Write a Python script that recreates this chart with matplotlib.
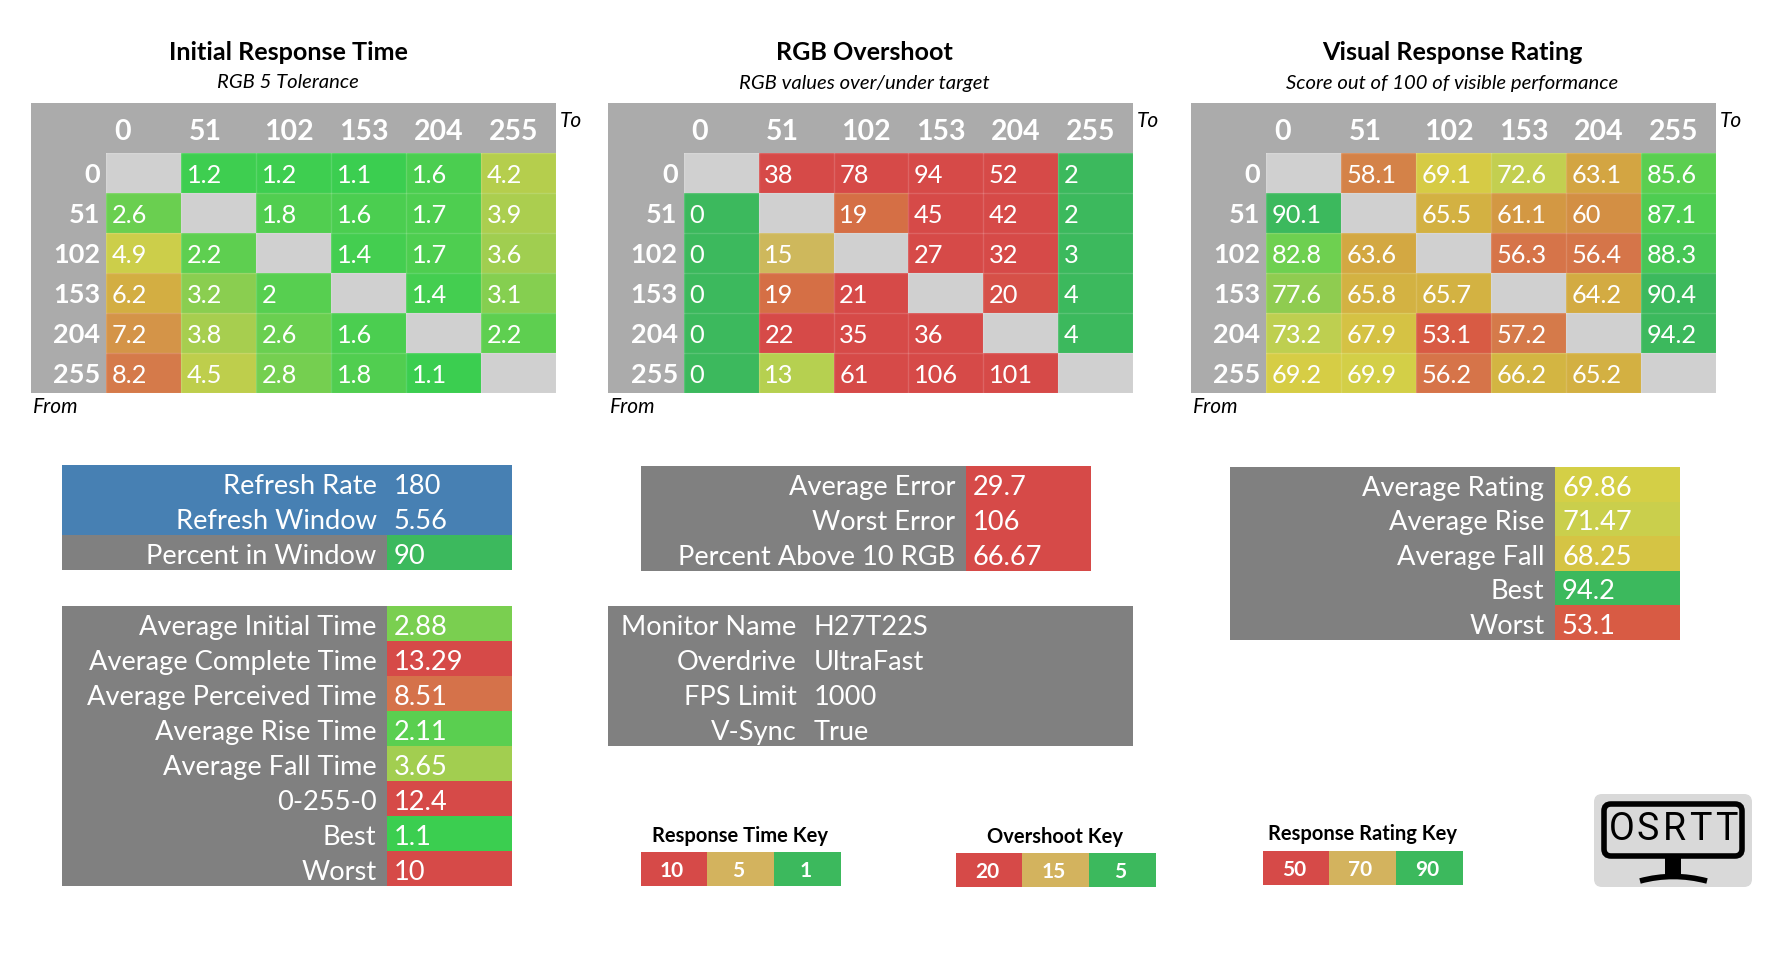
import numpy as np
import matplotlib

matplotlib.use("Agg")
import matplotlib.pyplot as plt
from matplotlib.colors import LinearSegmentedColormap, Normalize
from matplotlib.patches import FancyBboxPatch, PathPatch, Rectangle
from matplotlib.path import Path

plt.rcParams["font.family"] = ["Lato", "DejaVu Sans"]

W, H = 1784, 962
Y_SHIFT = 1

# ---- Data ----
LEVELS = [0, 51, 102, 153, 204, 255]
NA = np.nan

INITIAL = [
    [NA, 1.2, 1.2, 1.1, 1.6, 4.2],
    [2.6, NA, 1.8, 1.6, 1.7, 3.9],
    [4.9, 2.2, NA, 1.4, 1.7, 3.6],
    [6.2, 3.2, 2, NA, 1.4, 3.1],
    [7.2, 3.8, 2.6, 1.6, NA, 2.2],
    [8.2, 4.5, 2.8, 1.8, 1.1, NA],
]
OVERSHOOT = [
    [NA, 38, 78, 94, 52, 2],
    [0, NA, 19, 45, 42, 2],
    [0, 15, NA, 27, 32, 3],
    [0, 19, 21, NA, 20, 4],
    [0, 22, 35, 36, NA, 4],
    [0, 13, 61, 106, 101, NA],
]
RATING = [
    [NA, 58.1, 69.1, 72.6, 63.1, 85.6],
    [90.1, NA, 65.5, 61.1, 60, 87.1],
    [82.8, 63.6, NA, 56.3, 56.4, 88.3],
    [77.6, 65.8, 65.7, NA, 64.2, 90.4],
    [73.2, 67.9, 53.1, 57.2, NA, 94.2],
    [69.2, 69.9, 56.2, 66.2, 65.2, NA],
]

REFRESH_LABELS = ["Refresh Rate", "Refresh Window"]
REFRESH_VALUES = ["180", "5.56"]
WINDOW_LABELS = ["Percent in Window"]
WINDOW_VALUES = ["90"]
TIME_LABELS = ["Average Initial Time", "Average Complete Time", "Average Perceived Time",
               "Average Rise Time", "Average Fall Time", "0-255-0", "Best", "Worst"]
TIME_VALUES = ["2.88", "13.29", "8.51", "2.11", "3.65", "12.4", "1.1", "10"]
ERROR_LABELS = ["Average Error", "Worst Error", "Percent Above 10 RGB"]
ERROR_VALUES = ["29.7", "106", "66.67"]
MONITOR_LABELS = ["Monitor Name", "Overdrive", "FPS Limit", "V-Sync"]
MONITOR_VALUES = ["H27T22S", "UltraFast", "1000", "True"]
RATING_LABELS = ["Average Rating", "Average Rise", "Average Fall", "Best", "Worst"]
RATING_VALUES = ["69.86", "71.47", "68.25", "94.2", "53.1"]

TIME_KEY = ["10", "5", "1"]
OVERSHOOT_KEY = ["20", "15", "5"]
RATING_KEY = ["50", "70", "90"]

# ---- Palette ----
RED = "#d64a48"
GOLD = "#d3b35e"
GREEN = "#3cb95d"
BLUE = "#4780b3"
GREY = "#808080"
HEADER_GREY = "#ababab"
BLANK = "#d0d0d0"


def _scale(stops):
    lo, hi = stops[0][0], stops[-1][0]
    pts = [((v - lo) / (hi - lo), c) for v, c in stops]
    return LinearSegmentedColormap.from_list("s", pts), Normalize(lo, hi)


TIME_SCALE = _scale([(1, "#39ce50"), (2.6, "#6bcf50"), (3.6, "#a0ce50"), (4.9, "#cdce4a"),
                     (6.2, "#d3ae42"), (7.2, "#d49548"), (8.2, "#d57a4a"), (10, RED), (14, RED)])
OVERSHOOT_SCALE = _scale([(0, GREEN), (5, GREEN), (13, "#b7d050"), (15, GOLD),
                          (19, "#d56f45"), (20, RED), (110, RED)])
RATING_SCALE = _scale([(50, RED), (53.1, "#d85c44"), (57, "#d57a4a"), (60, "#d39044"), (64, "#d3ab42"),
                       (66, "#d3b342"), (69.5, "#d6cf45"), (72.6, "#c3cf50"), (77.6, "#90cc50"),
                       (82.8, "#6ed050"), (87, "#50cf50"), (90, GREEN), (95, GREEN)])

fig = plt.figure(figsize=(W / 100, H / 100), dpi=100, facecolor="white")
canvas = fig.add_axes([0, 0, 1, 1])
canvas.set_xlim(0, W)
canvas.set_ylim(H - Y_SHIFT, -Y_SHIFT)
canvas.axis("off")


def px_axes(x0, y0, x1, y1):
    return fig.add_axes([x0 / W, 1 - (y1 + Y_SHIFT) / H, (x1 - x0) / W, (y1 - y0) / H])


def box(x0, y0, x1, y1, color):
    canvas.add_patch(Rectangle((x0, y0), x1 - x0, y1 - y0, facecolor=color, edgecolor="none"))


def draw_heatmap(left, cells_left, right, values, scale, title, subtitle, title_x):
    top, head, bottom = 103, 153.3, 393
    box(left, top, right, bottom, HEADER_GREY)
    cmap, norm = scale
    data = np.ma.masked_invalid(np.array(values, dtype=float))

    ax = px_axes(cells_left, head, right, bottom)
    ax.set_facecolor(BLANK)
    ax.pcolormesh(data, cmap=cmap, norm=norm)
    ax.set_xlim(0, 6)
    ax.set_ylim(6, 0)
    ax.set_xticks(np.arange(7))
    ax.set_yticks(np.arange(7))
    ax.grid(True, color="white", alpha=0.15, linewidth=1)
    ax.tick_params(length=0, labelbottom=False, labelleft=False)
    for spine in ax.spines.values():
        spine.set_visible(False)

    for r in range(6):
        for c in range(6):
            if not np.isnan(values[r][c]):
                ax.text(c + 0.075, r + 0.53, f"{values[r][c]:g}", color="white",
                        fontsize=18.3, ha="left", va="center")

    col_w = (right - cells_left) / 6
    row_h = (bottom - head) / 6
    for i, level in enumerate(LEVELS):
        canvas.text(cells_left + i * col_w + 7.5, 131.5, str(level), color="white", fontsize=20.5,
                    fontweight="bold", ha="left", va="center")
        canvas.text(cells_left - 6, head + (i + 0.52) * row_h, str(level), color="white", fontsize=19.5,
                    fontweight="bold", ha="right", va="center")

    canvas.text(title_x, 52, title, fontsize=18.1, fontweight="bold", ha="center", va="center")
    canvas.text(title_x, 82, subtitle, fontsize=14.6, fontstyle="italic", ha="center", va="center")
    canvas.text(right + 4, 120, "To", fontsize=15, fontstyle="italic", ha="left", va="center")
    canvas.text(left + 2, 406.5, "From", fontsize=15, fontstyle="italic", ha="left", va="center")


def draw_table(left, split, right, top, row_h, labels, values, scale=None, label_bg=GREY):
    for i, (label, value) in enumerate(zip(labels, values)):
        y0 = top + i * row_h
        box(left, y0, split, y0 + row_h, label_bg)
        color = scale[0](scale[1](float(value))) if scale is not None else label_bg
        box(split, y0, right, y0 + row_h, color)
        yc = y0 + row_h * 0.58
        canvas.text(split - 10.5, yc, label, color="white", fontsize=19.6, ha="right", va="center")
        canvas.text(split + 7, yc, value, color="white", fontsize=19.6, ha="left", va="center")


def draw_key(edges, y0, y1, labels, title, title_x, title_y):
    colors = [RED, GOLD, GREEN]
    for i, label in enumerate(labels):
        box(edges[i], y0, edges[i + 1], y1, colors[i])
        canvas.text((edges[i] + edges[i + 1]) / 2 - 2, (y0 + y1) / 2 + 1, label, color="white", fontsize=15,
                    fontweight="bold", ha="center", va="center")
    canvas.text(title_x, title_y - 1, title, fontsize=14.5, fontweight="bold", ha="center", va="center")


def draw_logo():
    canvas.add_patch(FancyBboxPatch((1602, 802), 142, 77, boxstyle="round,pad=8,rounding_size=8",
                                    facecolor="#d9d9d9", edgecolor="none"))
    canvas.add_patch(FancyBboxPatch((1606, 806), 134, 48, boxstyle="round,pad=2,rounding_size=7",
                                    facecolor="none", edgecolor="black", linewidth=4))
    box(1665, 857, 1681, 877, "black")
    foot = Path([(1640, 881), (1673, 872), (1707, 881)], [Path.MOVETO, Path.CURVE3, Path.CURVE3])
    canvas.add_patch(PathPatch(foot, facecolor="none", edgecolor="black", linewidth=4))
    for i, letter in enumerate("OSRTT"):
        canvas.text(1622 + i * 26, 829, letter, fontsize=27, family="Roboto", ha="center", va="center")


draw_heatmap(31, 106.4, 556, INITIAL, TIME_SCALE, "Initial Response Time", "RGB 5 Tolerance", 288)
draw_heatmap(608, 683.8, 1133, OVERSHOOT, OVERSHOOT_SCALE, "RGB Overshoot", "RGB values over/under target", 864.5)
draw_heatmap(1191, 1266.3, 1716, RATING, RATING_SCALE, "Visual Response Rating",
             "Score out of 100 of visible performance", 1452)

draw_table(62, 387, 512, 465, 35, REFRESH_LABELS, REFRESH_VALUES, label_bg=BLUE)
draw_table(62, 387, 512, 535, 35, WINDOW_LABELS, WINDOW_VALUES, scale=RATING_SCALE)
draw_table(62, 387, 512, 606, 35, TIME_LABELS, TIME_VALUES, scale=TIME_SCALE)
draw_table(641, 966, 1091, 466, 35, ERROR_LABELS, ERROR_VALUES, scale=OVERSHOOT_SCALE)
draw_table(608, 807, 1133, 606, 35, MONITOR_LABELS, MONITOR_VALUES)
draw_table(1230, 1555, 1680, 467, 34.6, RATING_LABELS, RATING_VALUES, scale=RATING_SCALE)

draw_key([641, 707, 774, 841], 852, 886, TIME_KEY, "Response Time Key", 740, 836)
draw_key([956, 1022, 1089, 1156], 853, 887, OVERSHOOT_KEY, "Overshoot Key", 1055, 837)
draw_key([1263, 1329, 1396, 1463], 851, 885, RATING_KEY, "Response Rating Key", 1363, 834)
draw_logo()

fig.savefig("out.png", dpi=100)
